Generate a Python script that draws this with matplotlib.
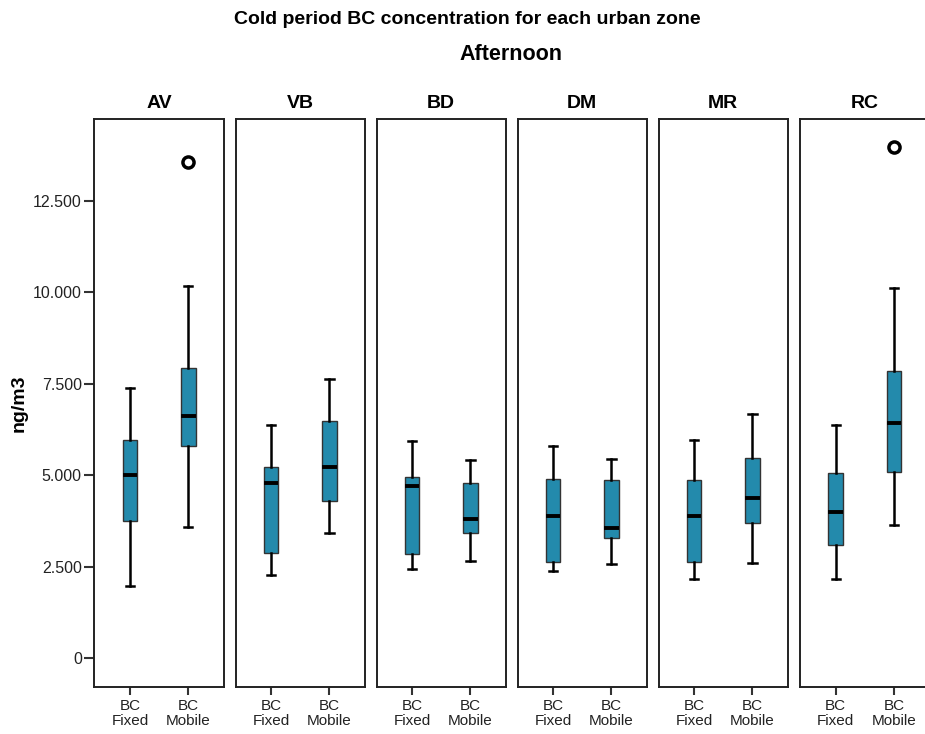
import matplotlib
matplotlib.use('Agg')
import matplotlib.pyplot as plt

plt.rcParams['font.family'] = ['Liberation Sans', 'DejaVu Sans']

# Zones and series
zones = ['AV', 'VB', 'BD', 'DM', 'MR', 'RC']
series = ['BC\nFixed', 'BC\nMobile']

# Box statistics (ng/m3)
fixed_whislo = [1980, 2270, 2430, 2380, 2170, 2170]
fixed_q1 = [3740, 2870, 2840, 2620, 2640, 3110]
fixed_med = [5000, 4790, 4700, 3880, 3880, 4010]
fixed_q3 = [5970, 5230, 4950, 4900, 4870, 5070]
fixed_whishi = [7400, 6380, 5940, 5790, 5980, 6370]

mobile_whislo = [3590, 3430, 2650, 2590, 2600, 3640]
mobile_q1 = [5800, 4300, 3430, 3290, 3690, 5090]
mobile_med = [6630, 5230, 3810, 3560, 4380, 6430]
mobile_q3 = [7945, 6490, 4780, 4870, 5480, 7850]
mobile_whishi = [10170, 7640, 5410, 5450, 6670, 10130]
mobile_outliers = [[13570], [], [], [], [], [13980]]

yticks = [0, 2500, 5000, 7500, 10000, 12500]
ytick_labels = ['0', '2.500', '5.000', '7.500', '10.000', '12.500']

BOX_COLOR = '#238aac'

fig = plt.figure(figsize=(9.25, 7.34), dpi=100)

panel_left = [94.3, 235.5, 376.5, 517.5, 658.5, 800.0]
for i, zone in enumerate(zones):
    ax = fig.add_axes([panel_left[i] / 925, 1 - 686.7 / 734, 129.5 / 925, (686.7 - 119.3) / 734])
    stats = [
        dict(whislo=fixed_whislo[i], q1=fixed_q1[i], med=fixed_med[i],
             q3=fixed_q3[i], whishi=fixed_whishi[i], fliers=[]),
        dict(whislo=mobile_whislo[i], q1=mobile_q1[i], med=mobile_med[i],
             q3=mobile_q3[i], whishi=mobile_whishi[i], fliers=mobile_outliers[i]),
    ]
    ax.bxp(stats, positions=[1, 2], widths=0.25, patch_artist=True,
           boxprops=dict(facecolor=BOX_COLOR, edgecolor='#333333', linewidth=1.0),
           medianprops=dict(color='black', linewidth=2.8, solid_capstyle='butt'),
           whiskerprops=dict(color='black', linewidth=1.8),
           capprops=dict(color='black', linewidth=1.8),
           capwidths=0.14,
           flierprops=dict(marker='o', markersize=8, markerfacecolor='white',
                           markeredgecolor='black', markeredgewidth=2.5))
    ax.set_xlim(0.388, 2.609)
    ax.set_ylim(-776, 14733)
    ax.set_xticks([1, 2])
    ax.set_xticklabels(series, fontsize=11, color='#222222', linespacing=1.1)
    ax.tick_params(axis='x', length=6, width=1.5, color='#333333', pad=3)
    for sp in ax.spines.values():
        sp.set_color('#222222')
        sp.set_linewidth(1.4)
    ax.set_title(zone, fontsize=14, fontweight='bold', pad=8)
    if i == 0:
        ax.set_yticks(yticks)
        ax.set_yticklabels(ytick_labels, fontsize=11.5, color='#222222')
        ax.tick_params(axis='y', length=7, width=1.5, color='#333333', pad=2)
        ax.set_ylabel('ng/m3', fontsize=14, fontweight='bold', labelpad=4)
    else:
        ax.set_yticks([])

fig.text(467 / 925, 1 - 19 / 734, 'Cold period BC concentration for each urban zone',
         ha='center', va='center', fontsize=14, fontweight='bold')
fig.text(511 / 925, 1 - 55 / 734, 'Afternoon', ha='center', va='center',
         fontsize=15.5, fontweight='bold')

fig.savefig('out.png', dpi=100)
plt.close(fig)
